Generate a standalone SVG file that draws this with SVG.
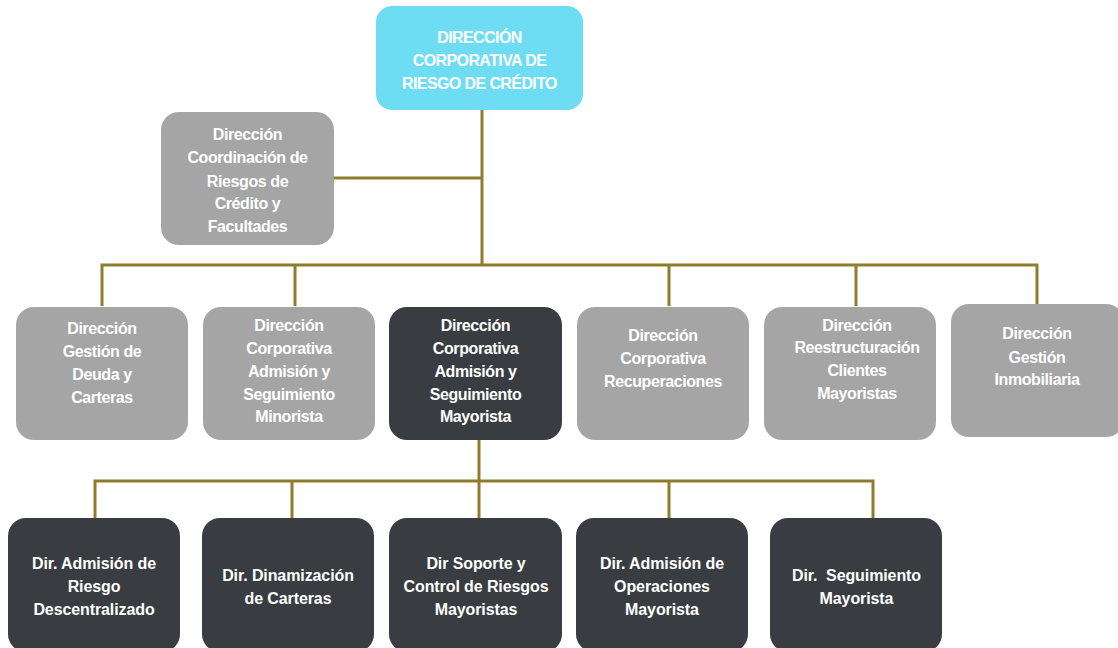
<svg xmlns="http://www.w3.org/2000/svg" width="1118" height="648" viewBox="0 0 1118 648">
<style>
.top{fill:#6EDDF3}
.gray{fill:#A5A5A5}
.dark{fill:#393D41}
.t{font-family:"Liberation Sans",Arial,sans-serif;font-weight:bold;fill:#fff;text-anchor:middle}
.t2{font-size:16px;letter-spacing:-0.4px}
.t1{font-size:16px;letter-spacing:-0.6px}
.t3{font-size:16px;letter-spacing:-0.1px}
.c{fill:none;stroke:#8F7C2F;stroke-width:3}
</style>
<rect width="1118" height="648" fill="#fff"/>
<g id="connectors">
<path class="c" d="M482 110 V265"/>
<path class="c" d="M334 178 H482"/>
<path class="c" d="M102 306 V265 H1037 V304"/>
<path class="c" d="M295 265 V306"/>
<path class="c" d="M669 265 V306"/>
<path class="c" d="M856 265 V306"/>
<path class="c" d="M479 440 V481"/>
<path class="c" d="M95 518 V481 H873 V521"/>
<path class="c" d="M292 481 V518"/>
<path class="c" d="M479 481 V518"/>
<path class="c" d="M669 481 V518"/>
</g>
<g id="n-top">
<rect class="top" x="376" y="6" width="207" height="104" rx="16"/>
<text class="t t1" x="479.5" y="43">DIRECCIÓN</text>
<text class="t t1" x="479.5" y="66">CORPORATIVA DE</text>
<text class="t t1" x="479.5" y="89">RIESGO DE CRÉDITO</text>
</g>
<g id="n-coord">
<rect class="gray" x="161" y="112" width="173" height="133" rx="18"/>
<text class="t t2" x="247.5" y="140">Dirección</text>
<text class="t t2" x="247.5" y="163">Coordinación de</text>
<text class="t t2" x="247.5" y="186.5">Riesgos de</text>
<text class="t t2" x="247.5" y="209">Crédito y</text>
<text class="t t2" x="247.5" y="232">Facultades</text>
</g>
<g id="n-deuda">
<rect class="gray" x="16" y="307" width="172" height="133" rx="18"/>
<text class="t t2" x="102" y="334">Dirección</text>
<text class="t t2" x="102" y="357">Gestión de</text>
<text class="t t2" x="102" y="380">Deuda y</text>
<text class="t t2" x="102" y="403">Carteras</text>
</g>
<g id="n-minorista">
<rect class="gray" x="203" y="307" width="172" height="133" rx="18"/>
<text class="t t2" x="289" y="330.5">Dirección</text>
<text class="t t2" x="289" y="353.5">Corporativa</text>
<text class="t t2" x="289" y="377">Admisión y</text>
<text class="t t2" x="289" y="399.5">Seguimiento</text>
<text class="t t2" x="289" y="422">Minorista</text>
</g>
<g id="n-mayorista">
<rect class="dark" x="389" y="307" width="173" height="133" rx="18"/>
<text class="t t2" x="475.5" y="330.5">Dirección</text>
<text class="t t2" x="475.5" y="353.5">Corporativa</text>
<text class="t t2" x="475.5" y="377">Admisión y</text>
<text class="t t2" x="475.5" y="399.5">Seguimiento</text>
<text class="t t2" x="475.5" y="422">Mayorista</text>
</g>
<g id="n-recuperaciones">
<rect class="gray" x="577" y="307" width="172" height="133" rx="18"/>
<text class="t t2" x="663" y="341">Dirección</text>
<text class="t t2" x="663" y="364">Corporativa</text>
<text class="t t2" x="663" y="387">Recuperaciones</text>
</g>
<g id="n-reestructuracion">
<rect class="gray" x="764" y="307" width="172" height="133" rx="18"/>
<text class="t t2" x="857" y="331">Dirección</text>
<text class="t t2" x="857" y="353">Reestructuración</text>
<text class="t t2" x="857" y="376">Clientes</text>
<text class="t t2" x="857" y="399">Mayoristas</text>
</g>
<g id="n-inmobiliaria">
<rect class="gray" x="951" y="304" width="173" height="133" rx="18"/>
<text class="t t2" x="1037" y="339">Dirección</text>
<text class="t t2" x="1037" y="362.5">Gestión</text>
<text class="t t2" x="1037" y="385">Inmobiliaria</text>
</g>
<g id="n-descentralizado">
<rect class="dark" x="8" y="518" width="172" height="134" rx="18"/>
<text class="t t3" x="94" y="569">Dir. Admisión de</text>
<text class="t t3" x="94" y="592">Riesgo</text>
<text class="t t3" x="94" y="615">Descentralizado</text>
</g>
<g id="n-dinamizacion">
<rect class="dark" x="202" y="518" width="172" height="134" rx="18"/>
<text class="t t3" x="288" y="581">Dir. Dinamización</text>
<text class="t t3" x="288" y="604">de Carteras</text>
</g>
<g id="n-soporte">
<rect class="dark" x="389" y="518" width="173" height="134" rx="18"/>
<text class="t t3" x="476" y="569">Dir Soporte y</text>
<text class="t t3" x="476" y="592">Control de Riesgos</text>
<text class="t t3" x="476" y="615">Mayoristas</text>
</g>
<g id="n-operaciones">
<rect class="dark" x="576" y="518" width="172" height="134" rx="18"/>
<text class="t t3" x="662" y="569">Dir. Admisión de</text>
<text class="t t3" x="662" y="592">Operaciones</text>
<text class="t t3" x="662" y="615">Mayorista</text>
</g>
<g id="n-seguimiento">
<rect class="dark" x="770" y="518" width="172" height="134" rx="18"/>
<text class="t t3" x="856.5" y="581" xml:space="preserve">Dir.  Seguimiento</text>
<text class="t t3" x="856.5" y="604">Mayorista</text>
</g>
</svg>
